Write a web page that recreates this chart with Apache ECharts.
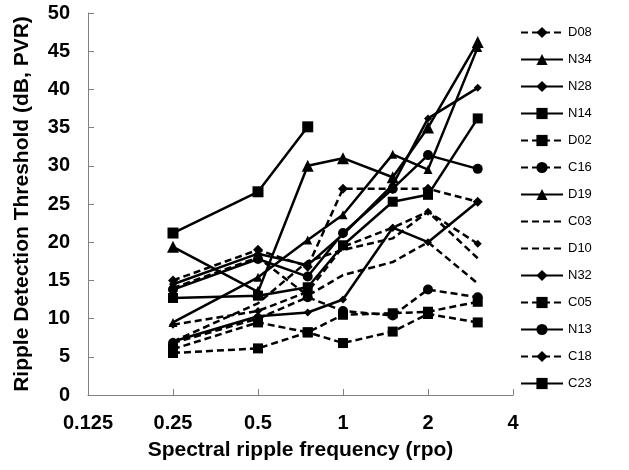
<!DOCTYPE html>
<html><head><meta charset="utf-8">
<script src="https://cdn.jsdelivr.net/npm/echarts@6/dist/echarts.min.js"></script>
<style>html,body{margin:0;padding:0;background:#fff}#c{width:629px;height:470px}</style>
</head><body><div id="c"></div>
<script>
// x positions (rpo)
const freqs = [0.25, 0.5, 0.75, 1, 1.5, 2, 3];
const xTicks = [0.125, 0.25, 0.5, 1, 2, 4];
const yTicks = [0, 5, 10, 15, 20, 25, 30, 35, 40, 45, 50];
// series names in legend order
const names = ['D08','N34','N28','N14','D02','C16','D19','C03','D10','N32','C05','N13','C18','C23'];
// thresholds (dB, PVR)
const D08 = [15, 19, 16.8, 27, 27, 27, 25.3];
const N34 = [19.4, 13.5, 30, 31, 28.5, 35, 46.2];
const N28 = [14.5, 18.5, 17, 21, 27.5, 36.2, 40.2];
const N14 = [12.7, 13, 14.1, 19.6, 25.3, 26.2, 36.2];
const D02 = [6, 9.5, 8.2, 10.5, 10.7, 10.9, 12.2];
const C16 = [6.8, 10, 12.8, 11, 10.4, 13.8, 12.8];
const D19 = [9.5, 15.4, 20.3, 23.6, 31.5, 29.5, 45.5];
const C03 = [14, 18, 13, 15.7, 17.4, 20, 14.6];
const D10 = [7, 12, 17.5, 19, 20.5, 24, 17.9];
const N32 = [7, 10.3, 10.8, 12.5, 21.9, 20, 25.3];
const C05 = [5.5, 6.1, 8.2, 6.8, 8.3, 10.6, 9.5];
const N13 = [13.8, 17.8, 15.5, 21.2, 27, 31.4, 29.6];
const C18 = [9.2, 11, 13.5, 19.4, 21.9, 24, 19.8];
const C23 = [21.2, 26.6, 35.1];

const values = {D08,N34,N28,N14,D02,C16,D19,C03,D10,N32,C05,N13,C18,C23};
const style = {
  D08:{dash:true, sym:'diamond', size:10},
  N34:{dash:false, sym:'triangle', size:12},
  N28:{dash:false, sym:'diamond', size:8},
  N14:{dash:false, sym:'rect', size:10},
  D02:{dash:true, sym:'rect', size:10},
  C16:{dash:true, sym:'circle', size:10},
  D19:{dash:false, sym:'triangle', size:9},
  C03:{dash:true, sym:'none', size:0},
  D10:{dash:true, sym:'none', size:0},
  N32:{dash:false, sym:'diamond', size:8},
  C05:{dash:true, sym:'rect', size:10},
  N13:{dash:false, sym:'circle', size:10},
  C18:{dash:true, sym:'diamond', size:8},
  C23:{dash:false, sym:'rect', size:11}
};
const series = names.map(n => {
  const s = style[n];
  return {
    name: n, type: 'line',
    data: values[n].map((v, i) => [freqs[i], v]),
    symbol: s.sym, symbolSize: s.size,
    showSymbol: s.sym !== 'none',
    itemStyle: {color: '#000'},
    lineStyle: {color: '#000', width: 2.5, type: s.dash ? [7, 4] : 'solid'},
    emphasis: {disabled: true},
    animation: false
  };
});
const legendData = names.map(n => style[n].sym === 'none'
  ? {name: n, itemStyle: {opacity: 0}}
  : {name: n});
const chart = echarts.init(document.getElementById('c'), null, {renderer: 'canvas'});
const FF = 'Arial, "Liberation Sans", sans-serif';
chart.setOption({
  animation: false,
  grid: {left: 88, right: 116, top: 13, bottom: 75},
  legend: {
    orient: 'vertical', left: 520, top: 26, padding: 0,
    itemWidth: 42, itemHeight: 14, itemGap: 14,
    data: legendData,
    textStyle: {color: '#000', fontSize: 13, fontFamily: FF}
  },
  xAxis: {
    type: 'log', logBase: 2, min: xTicks[0], max: xTicks[xTicks.length-1],
    axisLine: {show: true, lineStyle: {color: '#808080', width: 1}},
    axisTick: {show: true, inside: true, length: 6, lineStyle: {color: '#808080'}},
    minorTick: {show: false}, splitLine: {show: false},
    axisLabel: {color: '#000', fontSize: 20, fontWeight: 'bold', fontFamily: FF, margin: 18,
      formatter: v => String(Math.round(v * 1000) / 1000)},
    name: 'Spectral ripple frequency (rpo)', nameLocation: 'middle', nameGap: 45,
    nameTextStyle: {color: '#000', fontSize: 21, fontWeight: 'bold', fontFamily: FF}
  },
  yAxis: {
    type: 'value', min: yTicks[0], max: yTicks[yTicks.length-1], interval: 5,
    axisLine: {show: true, lineStyle: {color: '#808080', width: 1}},
    axisTick: {show: true, inside: true, length: 6, lineStyle: {color: '#808080'}},
    splitLine: {show: false},
    axisLabel: {color: '#000', fontSize: 20, fontWeight: 'bold', fontFamily: FF, margin: 18},
    name: 'Ripple Detection Threshold (dB, PVR)', nameLocation: 'middle', nameGap: 55,
    nameTextStyle: {color: '#000', fontSize: 21, fontWeight: 'bold', fontFamily: FF}
  },
  series: series
});
</script></body></html>
